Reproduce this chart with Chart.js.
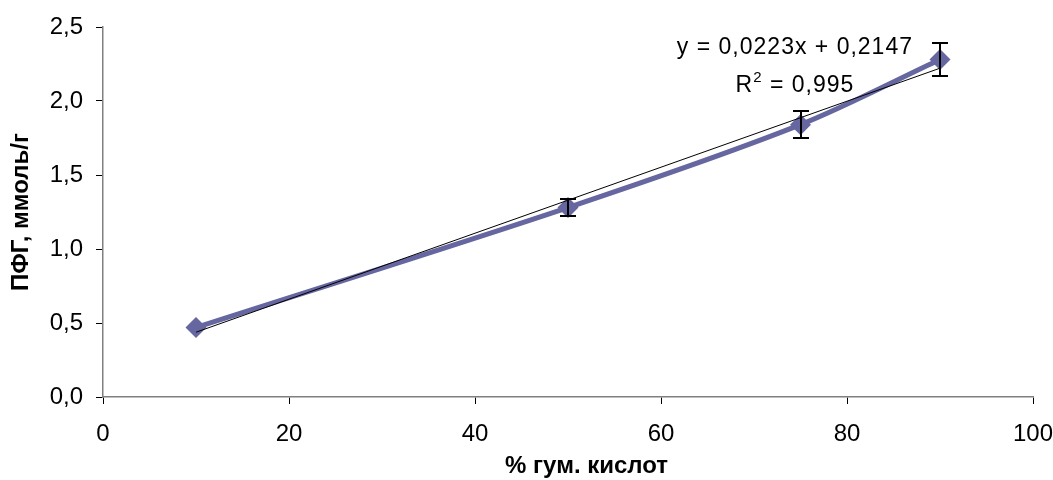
<!DOCTYPE html>
<html><head><meta charset="utf-8">
<script src="https://cdn.jsdelivr.net/npm/chart.js@4/dist/chart.umd.min.js"></script>
<style>html,body{margin:0;padding:0;background:#fff}#wrap{width:1053px;height:480px}</style>
</head><body><div id="wrap"><canvas id="c" width="1053" height="480"></canvas></div>
<script>
const xValues = [10, 50, 75, 90];
const yValues = [0.47, 1.28, 1.84, 2.28];
const yErrors = [0, 0.06, 0.09, 0.11];
const slope = 0.0223, intercept = 0.2147;
const trendX = [10, 90];
const eqText = 'y = 0,0223x + 0,2147';
const r2Text = '0,995';
const xTitle = '% гум. кислот';
const yTitle = 'ПФГ, ммоль/г';

const FONT = '"Liberation Sans", Arial, sans-serif';
const fmt = v => v.toFixed(1).replace('.', ',');

const errorBars = {
  id: 'errorBars',
  afterDatasetsDraw(chart) {
    const {ctx, scales: {x, y}} = chart;
    ctx.save();
    ctx.strokeStyle = '#000'; ctx.lineWidth = 2;
    xValues.forEach((xv, i) => {
      const e = yErrors[i]; if (!e) return;
      const px = Math.round(x.getPixelForValue(xv));
      const t = Math.round(y.getPixelForValue(yValues[i] + e)), b = Math.round(y.getPixelForValue(yValues[i] - e));
      ctx.beginPath();
      ctx.moveTo(px, t); ctx.lineTo(px, b);
      ctx.moveTo(px - 8, t); ctx.lineTo(px + 8, t);
      ctx.moveTo(px - 8, b); ctx.lineTo(px + 8, b);
      ctx.stroke();
    });
    // equation label
    ctx.fillStyle = '#000';
    ctx.letterSpacing = '1px';
    ctx.font = '23px ' + FONT;
    ctx.textAlign = 'center'; ctx.textBaseline = 'middle';
    ctx.fillText(eqText, x.getPixelForValue(74.4), y.getPixelForValue(2.358));
    const ry = y.getPixelForValue(2.101);
    const w1 = ctx.measureText('R').width;
    const rest = ' = ' + r2Text;
    const w3 = ctx.measureText(rest).width;
    ctx.font = '15px ' + FONT;
    const w2 = ctx.measureText('2').width;
    const total = w1 + w2 + w3;
    let sx = x.getPixelForValue(74.4) - total / 2;
    ctx.textAlign = 'left';
    ctx.font = '23px ' + FONT;
    ctx.fillText('R', sx, ry);
    ctx.font = '15px ' + FONT;
    ctx.fillText('2', sx + w1, ry - 8);
    ctx.font = '23px ' + FONT;
    ctx.fillText(rest, sx + w1 + w2, ry);
    // x axis title
    ctx.letterSpacing = '0px';
    ctx.font = 'bold 24px ' + FONT;
    ctx.textAlign = 'center';
    ctx.fillText(xTitle, x.getPixelForValue(52), 466);
    ctx.restore();
  }
};

new Chart(document.getElementById('c'), {
  type: 'scatter',
  data: {
    datasets: [
      {
        data: xValues.map((v, i) => ({x: v, y: yValues[i]})),
        showLine: true, borderColor: '#6666A0', backgroundColor: '#6666A0',
        borderWidth: 5, tension: 0.3, pointStyle: 'rectRot', pointRadius: 10.5,
        pointHoverRadius: 10.5, pointBorderWidth: 0, order: 1
      },
      {
        data: trendX.map(v => ({x: v, y: slope * v + intercept})),
        showLine: true, borderColor: '#000', borderWidth: 1, pointRadius: 0, order: 0
      }
    ]
  },
  plugins: [errorBars],
  options: {
    responsive: false, animation: false,
    layout: {padding: {top: 27, right: 20, left: 0, bottom: 0}},
    plugins: {legend: {display: false}, tooltip: {enabled: false}},
    scales: {
      x: {
        type: 'linear', min: 0, max: 100,
        ticks: {stepSize: 20, color: '#000', font: {family: FONT, size: 24}, padding: 16, maxRotation: 0},
        grid: {drawOnChartArea: false, tickLength: 7, color: '#000'},
        border: {color: '#808080', width: 1.5},
        title: {display: false},
        afterFit(s) { s.height = 83; s.paddingLeft = 0; s.paddingRight = 0; }
      },
      y: {
        min: 0, max: 2.5,
        ticks: {stepSize: 0.5, color: '#000', font: {family: FONT, size: 24}, padding: 13, callback: v => fmt(v)},
        grid: {drawOnChartArea: false, tickLength: 7, color: '#000'},
        border: {color: '#808080', width: 1.5},
        title: {display: true, text: yTitle, color: '#000', font: {family: FONT, size: 24, weight: 'bold'}, padding: {top: 7, bottom: 0}},
        afterFit(s) { s.width = 103; s.paddingTop = 0; s.paddingBottom = 0; }
      }
    }
  }
});
</script></body></html>
